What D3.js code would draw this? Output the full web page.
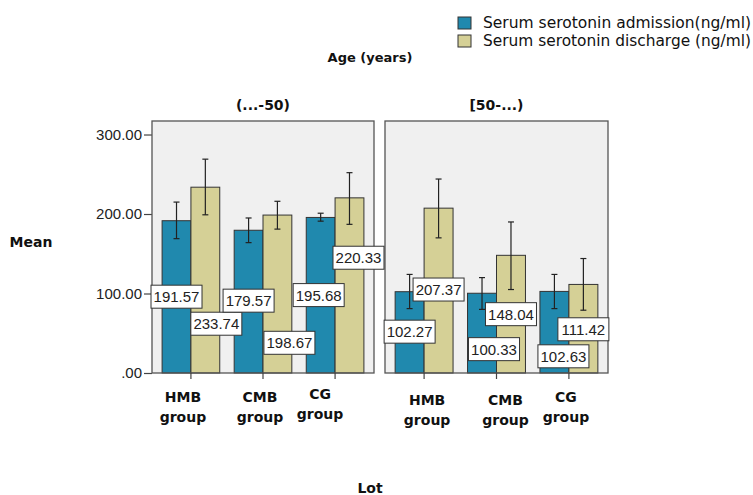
<!DOCTYPE html>
<html>
<head>
<meta charset="utf-8">
<script src="https://cdn.jsdelivr.net/npm/d3@7"></script>
<style>
  body { margin: 0; background: #fff; }
  .title { font-family: "DejaVu Sans", sans-serif; font-weight: bold; font-size: 13px; fill: #111; }
  .tick text { font-family: "Liberation Sans", Arial, sans-serif; font-size: 15px; fill: #222; }
  .catLabel { font-family: "DejaVu Sans", sans-serif; font-weight: bold; font-size: 14px; fill: #111; }
  .dataLabel { font-family: "Liberation Sans", Arial, sans-serif; font-size: 15px; fill: #222; }
  .legendText { font-family: "DejaVu Sans", sans-serif; font-size: 15px; fill: #111; }
</style>
</head>
<body>
<div id="chart"></div>
<script>
// chart data
let ageGroups = ['(...-50)', '[50-...)'];
let lots = ['HMB group', 'CMB group', 'CG group'];
let seriesNames = ['Serum serotonin admission(ng/ml)', 'Serum serotonin discharge (ng/ml)'];

// means, one row per age group
let admissionMean = [[191.57, 179.57, 195.68], [102.27, 100.33, 102.63]];
let dischargeMean = [[233.74, 198.67, 220.33], [207.37, 148.04, 111.42]];

// error bar ends
let admissionLow = [[169, 164, 191], [81, 80, 81]];
let admissionHigh = [[215, 195, 201], [124, 120, 124]];
let dischargeLow = [[199, 181, 187], [170, 105, 79]];
let dischargeHigh = [[269, 216, 252], [244, 190, 144]];

let yTicks = [0, 100, 200, 300];

// where SPSS put the value boxes (value units) and their sideways nudge (px)
let admissionLabelAt = [[96, 91, 98], [52, 30, 21]];
let dischargeLabelAt = [[62, 38, 145], [105, 74, 55]];
let admissionLabelDx = [[0, 0, -2], [0, 12, 9]];
let dischargeLabelDx = [[11, 12, 9], [0, 0, 0]];

// category label nudges (px) per panel
let catDx = [[-8, -3, -15], [3, 9, -3]];
let catDy = [[0, 0, -3], [3, 3, 0]];

let colors = ['#2089ae', '#d5d096'];

let svgWidth = 753;
let svgHeight = 495;

let svg = d3.select('#chart').append('svg')
  .attr('width', svgWidth)
  .attr('height', svgHeight);

svg.append('rect').attr('width', svgWidth).attr('height', svgHeight).attr('fill', '#fff');

// layers so labels sit above every bar and frame
let barLayer = svg.append('g');
let frameLayer = svg.append('g');
let labelLayer = svg.append('g');

// panels
let panelTop = 121;
let panelBottom = 373;
let panelRanges = [[152, 374], [385, 608]];

let y = d3.scaleLinear()
  .domain([0, 317])
  .range([panelBottom, panelTop]);

// y axis
let yAxis = frameLayer.append('g')
  .attr('transform', `translate(${panelRanges[0][0]}, 0)`)
  .call(d3.axisLeft(y)
    .tickValues(yTicks)
    .tickSize(8)
    .tickPadding(2)
    .tickFormat(d => d3.format('.2f')(d).replace(/^0\./, '.')));
yAxis.select('.domain').remove();
yAxis.selectAll('.tick line').attr('stroke', '#444').attr('stroke-width', 1.2);

ageGroups.forEach(function (age, p) {
  let x0 = d3.scaleBand()
    .domain(lots)
    .range(panelRanges[p])
    .paddingInner(0.2)
    .paddingOuter(0.14);

  let x1 = d3.scaleBand()
    .domain([0, 1])
    .range([0, x0.bandwidth()]);

  let panel = barLayer.append('g');

  panel.append('rect')
    .attr('x', panelRanges[p][0])
    .attr('y', panelTop)
    .attr('width', panelRanges[p][1] - panelRanges[p][0])
    .attr('height', panelBottom - panelTop)
    .attr('fill', '#f0f0f0');

  // panel title
  svg.append('text')
    .attr('class', 'title')
    .attr('x', (panelRanges[p][0] + panelRanges[p][1]) / 2)
    .attr('y', 110)
    .attr('text-anchor', 'middle')
    .style('font-size', '14px')
    .text(age);

  let rows = lots.map((lot, i) => ({
    lot: lot,
    i: i,
    values: [
      { s: 0, mean: admissionMean[p][i], low: admissionLow[p][i], high: admissionHigh[p][i], at: admissionLabelAt[p][i], dx: admissionLabelDx[p][i] },
      { s: 1, mean: dischargeMean[p][i], low: dischargeLow[p][i], high: dischargeHigh[p][i], at: dischargeLabelAt[p][i], dx: dischargeLabelDx[p][i] }
    ]
  }));

  let groupSel = panel.selectAll('.lot')
    .data(rows)
    .enter()
    .append('g')
    .attr('transform', d => `translate(${x0(d.lot)}, 0)`);

  // bars
  groupSel.selectAll('rect')
    .data(d => d.values)
    .enter()
    .append('rect')
    .attr('x', d => x1(d.s))
    .attr('y', d => y(d.mean))
    .attr('width', x1.bandwidth())
    .attr('height', d => y(0) - y(d.mean))
    .attr('fill', d => colors[d.s])
    .attr('stroke', '#333')
    .attr('stroke-width', 1);

  // error bars
  let err = groupSel.selectAll('.err')
    .data(d => d.values)
    .enter()
    .append('g')
    .attr('stroke', '#222')
    .attr('stroke-width', 1.2);
  err.append('line')
    .attr('x1', d => x1(d.s) + x1.bandwidth() / 2)
    .attr('x2', d => x1(d.s) + x1.bandwidth() / 2)
    .attr('y1', d => y(d.low))
    .attr('y2', d => y(d.high));
  err.append('line')
    .attr('x1', d => x1(d.s) + x1.bandwidth() / 2 - 3)
    .attr('x2', d => x1(d.s) + x1.bandwidth() / 2 + 3)
    .attr('y1', d => y(d.high))
    .attr('y2', d => y(d.high));
  err.append('line')
    .attr('x1', d => x1(d.s) + x1.bandwidth() / 2 - 3)
    .attr('x2', d => x1(d.s) + x1.bandwidth() / 2 + 3)
    .attr('y1', d => y(d.low))
    .attr('y2', d => y(d.low));

  // frame
  frameLayer.append('rect')
    .attr('x', panelRanges[p][0])
    .attr('y', panelTop)
    .attr('width', panelRanges[p][1] - panelRanges[p][0])
    .attr('height', panelBottom - panelTop)
    .attr('fill', 'none')
    .attr('stroke', '#555')
    .attr('stroke-width', 1.3);

  // value labels
  let lab = labelLayer.append('g').selectAll('g')
    .data(rows.flatMap(r => r.values.map(v => Object.assign({ lot: r.lot }, v))))
    .enter()
    .append('g')
    .attr('transform', d => `translate(${x0(d.lot) + x1(d.s) + x1.bandwidth() / 2 + d.dx}, ${y(d.at)})`);
  lab.append('rect')
    .attr('x', -25.5)
    .attr('y', -11.5)
    .attr('width', 51)
    .attr('height', 23)
    .attr('fill', '#fff')
    .attr('stroke', '#333')
    .attr('stroke-width', 1);
  lab.append('text')
    .attr('class', 'dataLabel')
    .attr('text-anchor', 'middle')
    .attr('dy', '0.36em')
    .text(d => d3.format('.2f')(d.mean));

  // bottom axis ticks
  let xAxis = frameLayer.append('g')
    .attr('transform', `translate(0, ${panelBottom})`)
    .call(d3.axisBottom(x0).tickSize(6).tickFormat(''));
  xAxis.select('.domain').remove();
  xAxis.selectAll('.tick line').attr('stroke', '#444').attr('stroke-width', 1.2);

  // category labels (two lines)
  let cat = frameLayer.append('g').selectAll('text')
    .data(rows)
    .enter()
    .append('text')
    .attr('class', 'catLabel')
    .attr('text-anchor', 'middle')
    .attr('transform', d => `translate(${x0(d.lot) + x0.bandwidth() / 2 + catDx[p][d.i]}, ${402 + catDy[p][d.i]})`);
  cat.append('tspan')
    .attr('x', 0)
    .text(d => d.lot.split(' ')[0]);
  cat.append('tspan')
    .attr('x', 0)
    .attr('dy', 20)
    .text(d => d.lot.split(' ')[1]);
});

// axis titles
svg.append('text').attr('class', 'title')
  .attr('x', 370).attr('y', 62).attr('text-anchor', 'middle')
  .text('Age (years)');
svg.append('text').attr('class', 'title')
  .attr('x', 31).attr('y', 247).attr('text-anchor', 'middle')
  .style('font-size', '14px')
  .text('Mean');
svg.append('text').attr('class', 'title')
  .attr('x', 370).attr('y', 493).attr('text-anchor', 'middle')
  .style('font-size', '14px')
  .text('Lot');

// legend
let legend = svg.append('g')
  .attr('transform', 'translate(458, 17)');
let legendItem = legend.selectAll('g')
  .data(seriesNames)
  .enter()
  .append('g')
  .attr('transform', (d, i) => `translate(0, ${i * 18})`);
legendItem.append('rect')
  .attr('width', 13)
  .attr('height', 12)
  .attr('fill', (d, i) => colors[i])
  .attr('stroke', '#333');
legendItem.append('text')
  .attr('class', 'legendText')
  .attr('x', 25)
  .attr('y', 11)
  .attr('textLength', 268)
  .attr('lengthAdjust', 'spacingAndGlyphs')
  .text(d => d);
</script>
</body>
</html>
